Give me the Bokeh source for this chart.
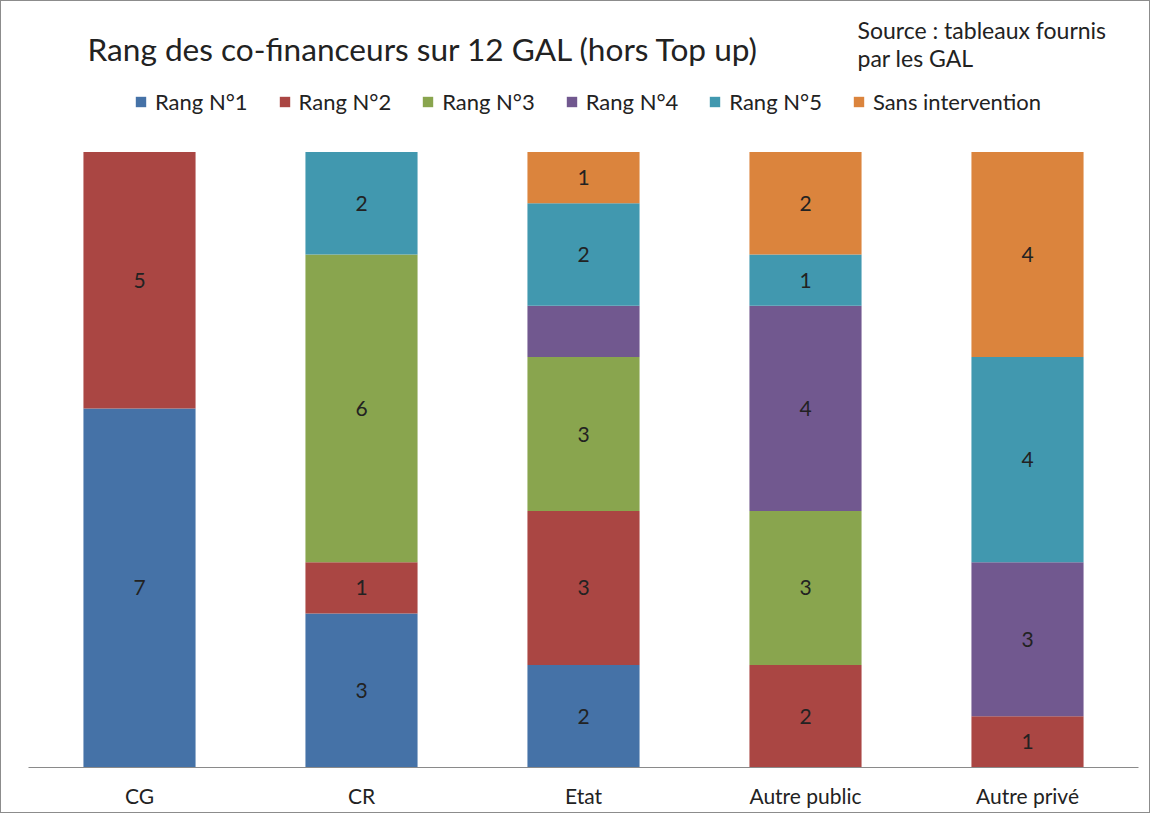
from bokeh.plotting import figure
from bokeh.models import ColumnDataSource, Range1d, FactorRange, Label, Legend, LegendItem
from bokeh.core.properties import value
from bokeh.embed import file_html
from bokeh.resources import INLINE

categories = ["CG", "CR", "Etat", "Autre public", "Autre privé"]
series = ["Rang N°1", "Rang N°2", "Rang N°3", "Rang N°4", "Rang N°5", "Sans intervention"]
rang1 = [7, 3, 2, 0, 0]
rang2 = [5, 1, 3, 2, 1]
rang3 = [0, 6, 3, 3, 0]
rang4 = [0, 0, 1, 4, 3]
rang5 = [0, 2, 2, 1, 4]
sans = [0, 0, 1, 2, 4]
# segment labels shown in the reference (the Etat / Rang N°4 segment has none)
show_label = {("Etat", "Rang N°4"): False}

title_text = "Rang des co-financeurs sur 12 GAL (hors Top up)"
source_lines = ["Source : tableaux fournis", "par les GAL"]

colors = ["#4572A7", "#AA4643", "#89A54E", "#71588F", "#4198AF", "#DB843D"]
FONT = "Lato"

W, H = 1150, 813
left, right, bottom = 27, 13, 47
frame_h = H - bottom - 2
top_px = 150
unit = (frame_h - top_px) / 12.0
ymax = frame_h / unit

data = {"cat": categories}
keys = ["r1", "r2", "r3", "r4", "r5", "sans"]
for k, vals in zip(keys, [rang1, rang2, rang3, rang4, rang5, sans]):
    data[k] = vals
src = ColumnDataSource(data)

p = figure(x_range=FactorRange(*categories, range_padding=0), y_range=Range1d(0, ymax),
           width=W, height=H, output_backend="svg", toolbar_location=None,
           min_border_left=left, min_border_right=right, min_border_top=0,
           min_border_bottom=bottom)
p.styles = {"border": "1px solid #8c8c8c"}

renderers = p.vbar_stack(keys, x="cat", width=0.505, color=colors, source=src,
                         line_color=None)

# segment labels
lx, ly, lt = [], [], []
for i, c in enumerate(categories):
    base = 0
    for s, vals in zip(series, [rang1, rang2, rang3, rang4, rang5, sans]):
        v = vals[i]
        if v > 0:
            if show_label.get((c, s), True):
                lx.append(i + 0.5)
                ly.append(base + v / 2)
                lt.append(str(v))
            base += v
lsrc = ColumnDataSource(dict(x=lx, y=ly, t=lt))
p.text(x="x", y="y", text="t", source=lsrc, text_align="center", text_baseline="middle",
       text_font=value(FONT), text_font_size="21px", text_color="#222222")

p.yaxis.visible = False
p.xgrid.visible = False
p.ygrid.visible = False
p.outline_line_color = None
p.xaxis.axis_line_color = "#8a8a8a"
p.xaxis.major_tick_line_color = None
p.xaxis.minor_tick_line_color = None
p.xaxis.major_tick_out = 0
p.xaxis.major_label_text_font = FONT
p.xaxis.major_label_text_font_size = "21px"
p.xaxis.major_label_text_color = "#222222"
p.xaxis.major_label_standoff = 15

def fx(px):
    return (px - 8 - left) / 222.0

def fy(py):
    return (frame_h - (py - 8)) / unit

p.add_layout(Label(x=fx(94), y=fy(55), text=title_text, text_font=FONT,
                   text_font_size="31.6px", text_color="#222222", text_baseline="middle"))
for j, line in enumerate(source_lines):
    p.add_layout(Label(x=fx(864), y=fy(36 + 28 * j), text=line, text_font=FONT,
                       text_font_size="23px", text_color="#222222", text_baseline="middle"))

items = [LegendItem(label=s, renderers=[r]) for s, r in zip(series, renderers)]
legend = Legend(items=items, orientation="horizontal",
                location=(141 - 8 - left, frame_h - (110 - 8) - 10),
                label_text_font=FONT, label_text_font_size="22px", label_text_color="#222222",
                glyph_width=13, glyph_height=13, label_standoff=8, spacing=30,
                padding=0, margin=0, border_line_color=None, background_fill_alpha=0,
                label_height=22)
p.add_layout(legend)

open("out.html", "w").write(file_html(p, INLINE))
